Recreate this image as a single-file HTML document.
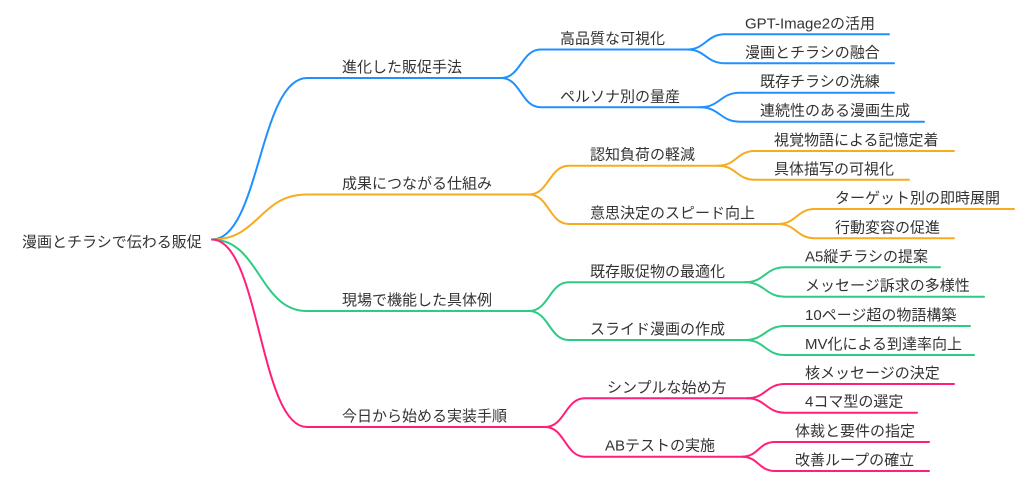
<!DOCTYPE html>
<html><head><meta charset="utf-8"><style>
html,body{margin:0;padding:0;background:#fff;}
svg{display:block;}
text{font-family:"Liberation Sans","Noto Sans CJK JP",sans-serif;font-size:15px;fill:#333;}
path{fill:none;stroke-width:2;stroke-linecap:round;}
.b{stroke:#2190ff}.o{stroke:#f7ab1e}.g{stroke:#2ecc82}.p{stroke:#ff1f7a}
</style></head><body>
<svg width="1024" height="481" viewBox="0 0 1024 481" xmlns="http://www.w3.org/2000/svg">
<!-- root -->
<text x="22" y="247">漫画とチラシで伝わる販促</text>

<!-- L1 -->
<path class="b" d="M212 239.5 C259.5 239.5 259.5 78 307 78 H501"/>
<path class="o" d="M212 239.5 C259.5 239.5 259.5 194.5 307 194.5 H529"/>
<path class="g" d="M212 239.5 C259.5 239.5 259.5 311 307 311 H529"/>
<path class="p" d="M212 239.5 C259.5 239.5 259.5 427 307 427 H545"/>
<text x="342" y="72">進化した販促手法</text>
<text x="342" y="188.5">成果につながる仕組み</text>
<text x="342" y="305">現場で機能した具体例</text>
<text x="342" y="421">今日から始める実装手順</text>

<!-- Blue L2 -->
<path class="b" d="M501 78 C521 78 521 49.5 541 49.5 H687"/>
<path class="b" d="M501 78 C521 78 521 107.3 541 107.3 H700"/>
<text x="560" y="43.5">高品質な可視化</text>
<text x="560" y="101.3">ペルソナ別の量産</text>
<!-- Blue L3 -->
<path class="b" d="M687 49.5 C706 49.5 706 34.3 725 34.3 H889"/>
<path class="b" d="M687 49.5 C706 49.5 706 63.3 725 63.3 H894"/>
<path class="b" d="M700 107.3 C720 107.3 720 92.7 740 92.7 H894"/>
<path class="b" d="M700 107.3 C720 107.3 720 121.7 740 121.7 H924"/>
<text x="745" y="28.3">GPT-Image2の活用</text>
<text x="745" y="57.3">漫画とチラシの融合</text>
<text x="760" y="86.7">既存チラシの洗練</text>
<text x="760" y="115.7">連続性のある漫画生成</text>

<!-- Orange L2 -->
<path class="o" d="M529 194.5 C549 194.5 549 165.7 569 165.7 H718"/>
<path class="o" d="M529 194.5 C549 194.5 549 224 569 224 H778"/>
<text x="590" y="159.7">認知負荷の軽減</text>
<text x="590" y="218">意思決定のスピード向上</text>
<!-- Orange L3 -->
<path class="o" d="M718 165.7 C736.5 165.7 736.5 151 755 151 H954"/>
<path class="o" d="M718 165.7 C736.5 165.7 736.5 179.8 755 179.8 H909"/>
<path class="o" d="M778 224 C796.5 224 796.5 209 815 209 H1014"/>
<path class="o" d="M778 224 C796.5 224 796.5 238.3 815 238.3 H954"/>
<text x="774" y="145">視覚物語による記憶定着</text>
<text x="774" y="173.8">具体描写の可視化</text>
<text x="835" y="203">ターゲット別の即時展開</text>
<text x="835" y="232.3">行動変容の促進</text>

<!-- Green L2 -->
<path class="g" d="M529 311 C549 311 549 282.3 569 282.3 H745"/>
<path class="g" d="M529 311 C549 311 549 340 569 340 H745"/>
<text x="590" y="276.3">既存販促物の最適化</text>
<text x="590" y="334">スライド漫画の作成</text>
<!-- Green L3 -->
<path class="g" d="M745 282.3 C765 282.3 765 267.3 785 267.3 H940"/>
<path class="g" d="M745 282.3 C765 282.3 765 296.7 785 296.7 H984"/>
<path class="g" d="M745 340 C765 340 765 326 785 326 H970"/>
<path class="g" d="M745 340 C765 340 765 355 785 355 H974"/>
<text x="805" y="261.3">A5縦チラシの提案</text>
<text x="805" y="290.7">メッセージ訴求の多様性</text>
<text x="805" y="320">10ページ超の物語構築</text>
<text x="805" y="349">MV化による到達率向上</text>

<!-- Pink L2 -->
<path class="p" d="M545 427 C565 427 565 398.3 585 398.3 H747"/>
<path class="p" d="M545 427 C565 427 565 456.7 585 456.7 H742"/>
<text x="607" y="392.3">シンプルな始め方</text>
<text x="605" y="450.7">ABテストの実施</text>
<!-- Pink L3 -->
<path class="p" d="M747 398.3 C766 398.3 766 384 785 384 H954"/>
<path class="p" d="M747 398.3 C766 398.3 766 412.7 785 412.7 H917"/>
<path class="p" d="M742 456.7 C758.5 456.7 758.5 442 775 442 H929"/>
<path class="p" d="M742 456.7 C758.5 456.7 758.5 471 775 471 H929"/>
<text x="805" y="378">核メッセージの決定</text>
<text x="805" y="406.7">4コマ型の選定</text>
<text x="795" y="436">体裁と要件の指定</text>
<text x="795" y="465">改善ループの確立</text>
</svg>
</body></html>
